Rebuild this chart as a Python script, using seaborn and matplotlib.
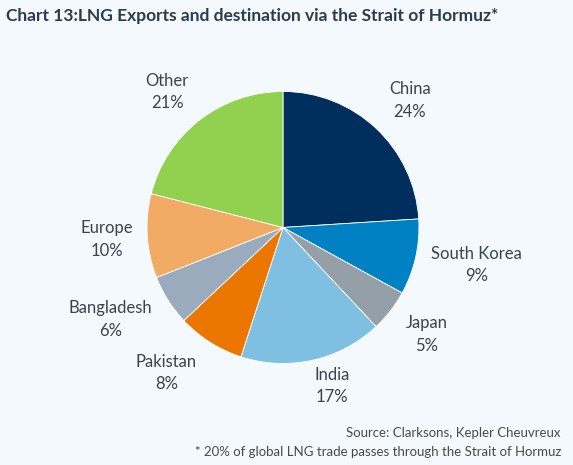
import numpy as np
import matplotlib
matplotlib.use("Agg")
import matplotlib.pyplot as plt
import seaborn as sns

# dane
countries = ["China", "South Korea", "Japan", "India", "Pakistan", "Bangladesh", "Europe", "Other"]
shares = [24, 9, 5, 17, 8, 6, 10, 21]
colors = ["#002f5d", "#0081c3", "#959fa8", "#7fc0e2", "#eb7600", "#99abbc", "#f2ab64", "#92d050"]
# polozenie etykiet: odleglosc (w promieniach) i przesuniecie kata (stopnie)
label_dist = [1.32, 1.45, 1.32, 1.22, 1.37, 1.44, 1.30, 1.31]
label_shift = [-1.8, 1.7, 1.2, 4.5, -6.3, -4.3, 0.3, 2.7]

title = "Chart 13:LNG Exports and destination via the Strait of Hormuz*"
source = "Source: Clarksons, Kepler Cheuvreux"
note = "* 20% of global LNG trade passes through the Strait of Hormuz"

bg = "#f3f9fd"

sns.set_theme(style="white")
plt.rcParams["font.family"] = ["Lato", "DejaVu Sans"]

fig = plt.figure(figsize=(5.73, 4.65), dpi=100, facecolor=bg)
ax = fig.add_axes([0.1141, 0.0428, 0.7595, 0.936])
ax.set_facecolor(bg)

wedges, texts = ax.pie(shares, colors=colors, startangle=90, counterclock=False,
                       labels=[f"{c}\n{s}%" for c, s in zip(countries, shares)],
                       labeldistance=1.3,
                       wedgeprops=dict(edgecolor="white", linewidth=0.6),
                       textprops=dict(fontsize=12, color="#3b4250", linespacing=1.5))

# etykiety jak w Excelu - kazda w swoim miejscu
for w, t, d, s in zip(wedges, texts, label_dist, label_shift):
    ang = np.deg2rad((w.theta1 + w.theta2) / 2 + s)
    t.set_position((d * np.cos(ang), d * np.sin(ang)))
    t.set_ha("center")
    t.set_va("center")

ax.set_xlim(-1.6, 1.6)
ax.set_ylim(-1.6, 1.6)
ax.axis("off")

fig.text(0.011, 0.966, title, fontsize=12.5, fontweight="bold", color="#2b3b50",
         ha="left", va="center")
fig.text(0.979, 0.069, source, fontsize=9.5, color="#4a4a4a", ha="right", va="center")
fig.text(0.979, 0.028, note, fontsize=9.5, color="#4a4a4a", ha="right", va="center")

fig.savefig("out.png", dpi=100, facecolor=bg)
